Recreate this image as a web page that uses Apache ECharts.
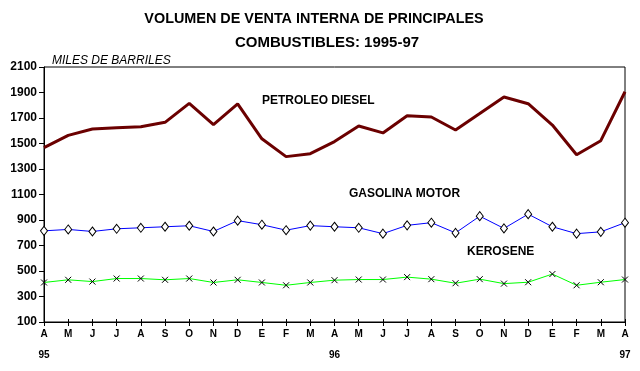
<!DOCTYPE html>
<html>
<head>
<meta charset="utf-8">
<script src="https://cdn.jsdelivr.net/npm/echarts@6/dist/echarts.min.js"></script>
<style>html,body{margin:0;padding:0;background:#fff;}#c{width:640px;height:371px;}</style>
</head>
<body>
<div id="c"></div>
<script>
const months = ['A','M','J','J','A','S','O','N','D','E','F','M','A','M','J','J','A','S','O','N','D','E','F','M','A'];
const years = {0:'95', 12:'96', 24:'97'};
const diesel = [1467,1564,1614,1624,1632,1666,1815,1648,1810,1537,1397,1420,1515,1637,1583,1718,1708,1606,1735,1865,1812,1645,1412,1522,1906];
const gasolina = [815,826,810,831,839,847,855,810,895,863,820,856,847,839,793,858,879,799,930,834,946,847,793,807,879];
const kerosene = [410,431,417,441,441,431,441,410,431,410,388,410,428,433,433,452,436,404,436,401,412,476,388,412,433];
const yTicks = [100,300,500,700,900,1100,1300,1500,1700,1900,2100];

const cats = months.map((m,i)=> m + '\n' + (years[i] || ''));
const chart = echarts.init(document.getElementById('c'), null, {renderer:'canvas'});
const F = 'Liberation Sans, Arial, sans-serif';
chart.setOption({
  animation:false,
  backgroundColor:'#fff',
  title:[{
    text:'VOLUMEN DE VENTA INTERNA DE PRINCIPALES',
    left:309, top:7, textAlign:'center',
    textStyle:{fontFamily:F, fontSize:14.4, fontWeight:'bold', color:'#000'}
  },{
    text:'COMBUSTIBLES: 1995-97',
    left:322, top:30, textAlign:'center',
    textStyle:{fontFamily:F, fontSize:15, fontWeight:'bold', color:'#000'}
  }],
  grid:{left:44, right:15, top:67, bottom:49, show:true, borderColor:'#000', borderWidth:1, containLabel:false},
  xAxis:[{
    type:'category', data:cats, boundaryGap:false,
    axisLine:{lineStyle:{color:'#000', width:1}},
    axisTick:{show:true, alignWithLabel:true, length:4, lineStyle:{color:'#000'}},
    axisLabel:{interval:0, fontFamily:F, fontSize:10, fontWeight:'bold', color:'#000', lineHeight:21, margin:2},
    splitLine:{show:false}
  },{
    type:'category', data:cats, boundaryGap:false, position:'bottom',
    axisLine:{show:false},
    axisTick:{show:true, inside:true, length:3, lineStyle:{color:'#000'}},
    axisLabel:{show:false}, splitLine:{show:false}
  }],
  yAxis:{
    type:'value', min:100, max:2100, interval:200,
    axisLine:{show:true, lineStyle:{color:'#000', width:1}},
    axisTick:{show:true, length:5, lineStyle:{color:'#000'}},
    axisLabel:{fontFamily:F, fontSize:12, fontWeight:'bold', color:'#000', margin:7, formatter:(v)=>String(v)},
    splitLine:{show:false}
  },
  graphic:[
    {type:'text', left:52, top:55, style:{text:'MILES DE BARRILES', font:'italic 12px '+F, fill:'#000'}},
    {type:'text', left:262, top:95, style:{text:'PETROLEO DIESEL', font:'bold 12px '+F, fill:'#000'}},
    {type:'text', left:349, top:188, style:{text:'GASOLINA MOTOR', font:'bold 12px '+F, fill:'#000'}},
    {type:'text', left:467, top:246, style:{text:'KEROSENE', font:'bold 12px '+F, fill:'#000'}}
  ],
  series:[
    {type:'line', name:'PETROLEO DIESEL', data:diesel, symbol:'none', lineStyle:{color:'#6b0000', width:3}, z:3},
    {type:'line', name:'GASOLINA MOTOR', data:gasolina, symbol:'diamond', symbolSize:[7,9], showSymbol:true,
      lineStyle:{color:'#0000ff', width:1}, itemStyle:{color:'#fff', borderColor:'#000', borderWidth:1}},
    {type:'line', name:'KEROSENE', data:kerosene, symbol:'path://M0,0L10,10M10,0L0,10', symbolSize:6, showSymbol:true,
      lineStyle:{color:'#00ff00', width:1}, itemStyle:{color:'none', borderColor:'#000', borderWidth:1}}
  ]
});
</script>
</body>
</html>
